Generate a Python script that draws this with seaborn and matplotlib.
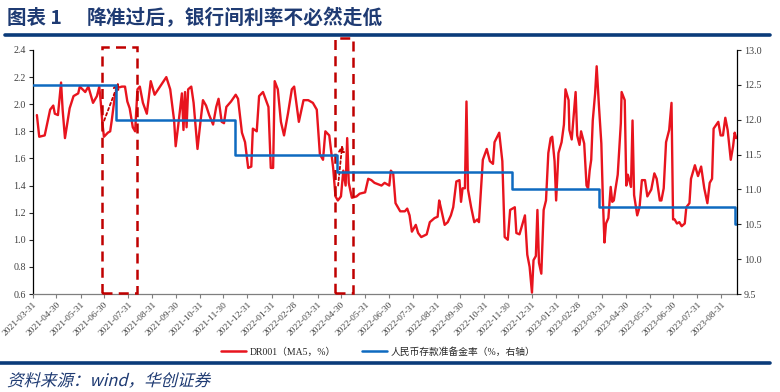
import pandas as pd
import matplotlib
matplotlib.use("Agg")
import matplotlib.pyplot as plt
import matplotlib.dates as mdates
from matplotlib.lines import Line2D
from matplotlib.patches import Rectangle, PathPatch
from matplotlib.textpath import TextPath
from matplotlib.font_manager import FontProperties
from matplotlib.transforms import Affine2D, IdentityTransform
import seaborn as sns

# DR001 (MA5, %)
dr_dates = [
    '2021-04-05', '2021-04-08', '2021-04-15', '2021-04-22', '2021-04-26', '2021-04-28', '2021-05-02',
    '2021-05-06', '2021-05-08', '2021-05-11', '2021-05-17', '2021-05-22', '2021-05-28', '2021-05-30',
    '2021-06-06', '2021-06-10', '2021-06-16', '2021-06-21', '2021-06-24', '2021-06-26', '2021-06-28',
    '2021-06-30', '2021-07-05', '2021-07-08', '2021-07-10', '2021-07-14', '2021-07-17', '2021-07-23',
    '2021-07-27', '2021-07-30', '2021-08-02', '2021-08-06', '2021-08-09', '2021-08-12', '2021-08-15',
    '2021-08-19', '2021-08-24', '2021-08-29', '2021-09-03', '2021-09-10', '2021-09-18', '2021-09-23',
    '2021-09-28', '2021-09-30', '2021-10-03', '2021-10-08', '2021-10-10', '2021-10-12', '2021-10-14',
    '2021-10-16', '2021-10-20', '2021-10-23', '2021-10-28', '2021-10-31', '2021-11-04', '2021-11-08',
    '2021-11-12', '2021-11-17', '2021-11-21', '2021-11-24', '2021-11-28', '2021-12-01', '2021-12-04',
    '2021-12-10', '2021-12-16', '2021-12-19', '2021-12-24', '2021-12-28',
    '2022-01-01', '2022-01-05', '2022-01-07', '2022-01-12', '2022-01-15', '2022-01-20', '2022-01-27',
    '2022-01-30', '2022-02-02', '2022-02-04', '2022-02-08', '2022-02-12', '2022-02-16', '2022-02-21',
    '2022-02-26', '2022-03-01', '2022-03-07', '2022-03-13', '2022-03-19', '2022-03-25', '2022-03-30',
    '2022-04-03', '2022-04-07', '2022-04-10', '2022-04-15', '2022-04-20', '2022-04-23', '2022-04-26',
    '2022-04-30', '2022-05-03', '2022-05-06', '2022-05-08', '2022-05-10', '2022-05-14', '2022-05-20',
    '2022-05-24', '2022-05-31', '2022-06-04', '2022-06-08', '2022-06-12', '2022-06-21', '2022-06-25',
    '2022-07-01', '2022-07-03', '2022-07-06', '2022-07-09', '2022-07-15', '2022-07-21', '2022-07-24',
    '2022-07-27', '2022-07-30', '2022-08-04', '2022-08-07', '2022-08-11', '2022-08-18', '2022-08-22',
    '2022-08-28', '2022-09-01', '2022-09-03', '2022-09-05', '2022-09-10', '2022-09-14', '2022-09-18',
    '2022-09-21', '2022-09-25', '2022-09-29', '2022-10-01', '2022-10-03', '2022-10-06', '2022-10-08',
    '2022-10-10', '2022-10-14', '2022-10-18', '2022-10-22', '2022-10-24', '2022-10-29', '2022-11-03',
    '2022-11-07', '2022-11-11', '2022-11-13', '2022-11-19', '2022-11-23', '2022-11-26', '2022-11-30',
    '2022-12-03', '2022-12-09', '2022-12-11', '2022-12-15', '2022-12-19', '2022-12-22', '2022-12-25',
    '2022-12-28', '2022-12-31',
    '2023-01-02', '2023-01-05', '2023-01-07', '2023-01-09', '2023-01-12', '2023-01-15', '2023-01-18',
    '2023-01-21', '2023-01-24', '2023-01-26', '2023-01-29', '2023-01-31', '2023-02-03', '2023-02-07',
    '2023-02-10', '2023-02-12', '2023-02-16', '2023-02-17', '2023-02-20', '2023-02-22', '2023-02-25',
    '2023-02-27', '2023-03-02', '2023-03-04', '2023-03-08', '2023-03-11', '2023-03-13', '2023-03-15',
    '2023-03-17', '2023-03-19', '2023-03-22', '2023-03-24', '2023-03-27', '2023-03-30', '2023-04-01',
    '2023-04-03', '2023-04-05', '2023-04-08', '2023-04-11', '2023-04-13', '2023-04-15', '2023-04-17',
    '2023-04-20', '2023-04-24', '2023-04-25', '2023-04-29', '2023-05-01', '2023-05-03', '2023-05-07',
    '2023-05-09', '2023-05-11', '2023-05-15', '2023-05-18', '2023-05-21', '2023-05-25', '2023-05-28',
    '2023-06-02', '2023-06-06', '2023-06-09', '2023-06-13', '2023-06-15', '2023-06-18', '2023-06-21',
    '2023-06-25', '2023-06-28', '2023-06-30', '2023-07-02', '2023-07-05', '2023-07-08', '2023-07-11',
    '2023-07-15', '2023-07-17', '2023-07-21', '2023-07-23', '2023-07-28', '2023-08-01', '2023-08-05',
    '2023-08-09', '2023-08-13', '2023-08-16', '2023-08-19', '2023-08-21', '2023-08-27', '2023-08-30',
    '2023-09-02', '2023-09-05', '2023-09-08', '2023-09-12', '2023-09-15', '2023-09-17', '2023-09-19',
]
dr_values = [
    1.92, 1.76, 1.77, 1.96, 1.99, 1.93, 1.92,
    2.16, 1.96, 1.75, 1.97, 2.06, 2.08, 2.13,
    2.09, 2.13, 2.01, 2.06, 2.13, 2.01, 1.86,
    1.76, 1.79, 1.80, 1.88, 2.06, 2.12, 2.13,
    2.13, 2.02, 1.97, 1.83, 1.80, 2.11, 2.13,
    2.01, 1.93, 2.17, 2.07, 2.13, 2.20, 2.11,
    1.88, 1.69, 1.83, 2.08, 1.81, 2.09, 1.83,
    2.11, 2.13, 2.01, 1.67, 1.83, 2.03, 1.99,
    1.92, 1.85, 1.98, 2.04, 1.87, 1.86, 1.98,
    2.02, 2.07, 2.04, 1.79, 1.72,
    1.53, 1.54, 1.82, 1.80, 2.06, 2.09, 1.98,
    1.53, 1.53, 2.17, 2.11, 1.87, 1.77, 1.93,
    2.11, 2.13, 1.87, 2.03, 2.03, 2.01, 1.96,
    1.63, 1.59, 1.80, 1.77, 1.53, 1.32, 1.29,
    1.32, 1.51, 1.40, 1.75, 1.42, 1.31, 1.32,
    1.34, 1.35, 1.45, 1.44, 1.42, 1.40, 1.42,
    1.40, 1.51, 1.49, 1.27, 1.21, 1.21, 1.23,
    1.18, 1.06, 1.11, 1.05, 1.02, 1.04, 1.13,
    1.16, 1.17, 1.29, 1.24, 1.11, 1.13, 1.18,
    1.24, 1.43, 1.44, 1.28, 1.38, 1.38, 2.02,
    1.37, 1.24, 1.13, 1.15, 1.13, 1.59, 1.67,
    1.58, 1.56, 1.72, 1.79, 1.58, 1.02, 1.00,
    1.22, 1.24, 1.05, 1.04, 1.12, 1.18, 0.89,
    0.80, 0.61,
    0.85, 0.88, 1.22, 0.83, 0.75, 1.22, 1.29,
    1.64, 1.75, 1.76, 1.58, 1.29, 1.64, 1.72,
    1.85, 2.11, 2.03, 1.81, 1.74, 1.88, 2.09,
    1.77, 1.70, 1.80, 1.71, 1.40, 1.38, 1.51,
    1.59, 1.88, 2.08, 2.28, 1.98, 1.71, 1.29,
    0.98, 1.12, 1.16, 1.39, 1.28, 1.29, 1.37,
    1.48, 1.86, 2.09, 2.03, 1.40, 1.48, 1.39,
    1.88, 1.33, 1.18, 1.24, 1.44, 1.44, 1.32,
    1.37, 1.49, 1.45, 1.29, 1.29, 1.38, 1.72,
    1.81, 2.01, 1.15, 1.15, 1.12, 1.13, 1.10,
    1.12, 1.24, 1.27, 1.45, 1.55, 1.47, 1.54,
    1.38, 1.27, 1.42, 1.45, 1.82, 1.87, 1.77,
    1.77, 1.90, 1.81, 1.59, 1.69, 1.79, 1.75,
]

# RMB reserve requirement ratio (%, right axis)
rrr_dates = ['2021-03-31', '2021-07-15', '2021-12-15', '2022-04-25', '2022-12-05',
             '2023-03-27', '2023-09-18', '2023-09-20']
rrr_values = [12.5, 12.0, 11.5, 11.25, 11.0, 10.75, 10.5, 10.5]

title_no = '图表 1'
title = '降准过后，银行间利率不必然走低'
source = '资料来源：wind，华创证券'
label_dr = 'DR001（MA5，%）'
label_rrr = '人民币存款准备金率（%，右轴）'

RED = '#E8141E'
BLUE = '#0F6AC0'
DARKRED = '#C00000'
NAVY = '#0B3B7A'
TEXT_NAVY = '#1F3B73'

dr = pd.DataFrame({'date': pd.to_datetime(dr_dates), 'value': dr_values})
rrr = pd.DataFrame({'date': pd.to_datetime(rrr_dates), 'value': rrr_values})

sns.set_style('white')
plt.rcParams['font.family'] = ['Liberation Serif', 'Noto Sans CJK SC', 'DejaVu Sans']

fig = plt.figure(figsize=(7.8, 3.92), dpi=100)
ax = fig.add_axes([33 / 780, 1 - 294 / 392, (737 - 33) / 780, (294 - 50) / 392])

sns.lineplot(data=dr, x='date', y='value', ax=ax, color=RED, lw=1.7, label=label_dr, legend=False)
ax.set_ylim(0.6, 2.4)
ax.set_yticks([0.6 + 0.2 * i for i in range(10)])
ax.yaxis.set_major_formatter(plt.FormatStrFormatter('%.1f'))

ax2 = ax.twinx()
sns.lineplot(data=rrr, x='date', y='value', ax=ax2, color=BLUE, lw=1.8,
             drawstyle='steps-post', label=label_rrr, legend=False)
ax2.set_ylim(9.5, 13.0)
ax2.set_yticks([9.5 + 0.5 * i for i in range(8)])
ax2.yaxis.set_major_formatter(plt.FormatStrFormatter('%.1f'))

xmin, xmax = pd.Timestamp('2021-03-31'), pd.Timestamp('2023-09-20')
ax.set_xlim(xmin, xmax)
ticks = pd.date_range('2021-03-31', '2023-08-31', freq=pd.offsets.MonthEnd())
ax.set_xticks(ticks)
ax.set_xticklabels([t.strftime('%Y-%m-%d') for t in ticks], rotation=45, ha='right',
                   va='top', rotation_mode='anchor', fontsize=6.8, color='#404040')

for a in (ax, ax2):
    a.set_xlabel('')
    a.set_ylabel('')
    a.spines['top'].set_visible(False)
ax.spines['left'].set_color('black')
ax.spines['right'].set_visible(False)
ax.spines['bottom'].set_color('#7f7f7f')
ax2.spines['left'].set_visible(False)
ax2.spines['bottom'].set_visible(False)
ax2.spines['right'].set_color('black')
for s in ('left', 'bottom'):
    ax.spines[s].set_linewidth(0.9)
ax2.spines['right'].set_linewidth(0.9)

ax.tick_params(axis='y', direction='out', length=3, width=0.8, labelsize=7.2,
               labelcolor='#404040', left=True, pad=2)
ax.tick_params(axis='x', direction='out', length=3, width=0.8, color='#7f7f7f', bottom=True, pad=2)
ax2.tick_params(axis='y', direction='out', length=3, width=0.8, labelsize=7.2,
                labelcolor='#404040', right=True, pad=2)

# dashed highlight boxes and dotted arrows
boxes = [('2021-06-27', '2021-08-11', 2.42), ('2022-04-22', '2022-05-16', 2.49)]
for d0, d1, top in boxes:
    x0 = mdates.date2num(pd.Timestamp(d0))
    x1 = mdates.date2num(pd.Timestamp(d1))
    ax.add_patch(Rectangle((x0, 0.605), x1 - x0, top - 0.605, fill=False, ec=DARKRED,
                           lw=1.8, ls=(0, (4, 2.5)), clip_on=False, zorder=5))

arrows = [(('2021-06-29', 1.86), ('2021-07-20', 2.18)), (('2022-04-26', 1.38), ('2022-05-02', 1.72))]
for (s_d, s_v), (e_d, e_v) in arrows:
    ax.annotate('', xy=(pd.Timestamp(e_d), e_v), xytext=(pd.Timestamp(s_d), s_v),
                arrowprops=dict(arrowstyle='-|>', ls=(0, (1.5, 1.5)), color=DARKRED,
                                lw=1.3, mutation_scale=9), zorder=6)

# legend
handles = [Line2D([], [], color=RED, lw=1.8), Line2D([], [], color=BLUE, lw=1.8)]
fig.legend(handles, [label_dr, label_rrr], loc='center', bbox_to_anchor=(0.485, 1 - 352 / 392),
           ncol=2, frameon=False, fontsize=7, handlelength=2.6, columnspacing=2.6,
           handletextpad=0.4, borderpad=0)

# header and footer
cjk = ['Noto Sans CJK SC', 'DejaVu Sans']
fig.text(7 / 780, 1 - 18 / 392, title_no, fontsize=14, fontweight='bold', color=TEXT_NAVY,
         va='center', ha='left', family=cjk)
fig.text(87 / 780, 1 - 18 / 392, title, fontsize=14.2, fontweight='bold', color=TEXT_NAVY,
         va='center', ha='left', family=cjk)
fig.add_artist(Line2D([5 / 780, 770 / 780], [1 - 35 / 392] * 2, color=NAVY, lw=2.6))
fig.add_artist(Line2D([0, 770 / 780], [1 - 363 / 392] * 2, color=NAVY, lw=2.6))

# italic source line (CJK font has no italic, so slant the outline)
src_path = TextPath((0, 0), source, size=16.5, prop=FontProperties(family='Noto Sans CJK SC'))
src_tf = Affine2D().skew_deg(14, 0).translate(7, 392 - 386) + IdentityTransform()
fig.add_artist(PathPatch(src_path, transform=src_tf, fc=TEXT_NAVY, ec='none'))

fig.savefig('out.png', dpi=100)
